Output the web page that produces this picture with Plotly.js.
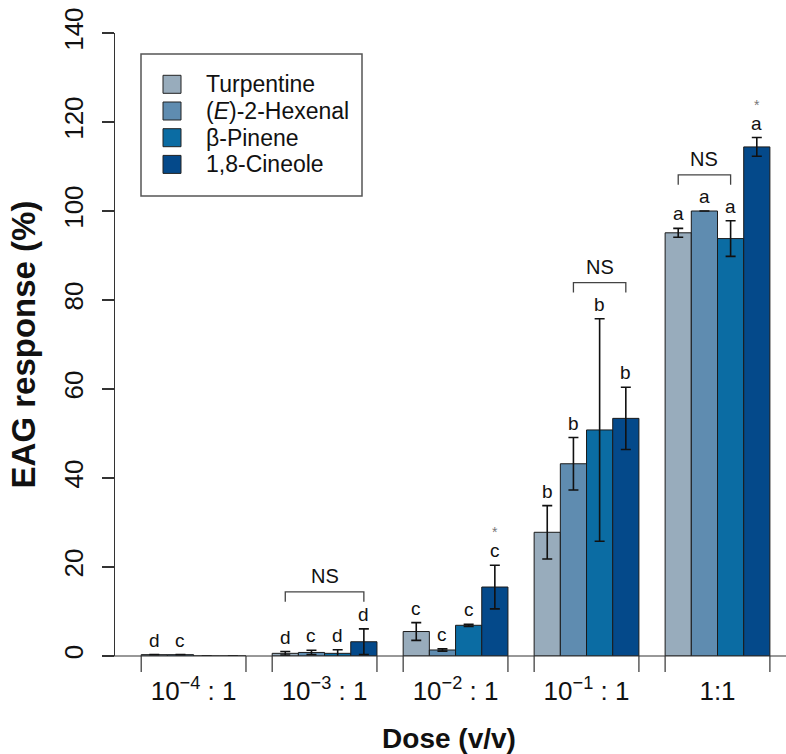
<!DOCTYPE html>
<html><head><meta charset="utf-8">
<script src="https://cdn.plot.ly/plotly-3.0.1.min.js"></script>
<style>html,body{margin:0;padding:0;background:#fff}</style>
</head><body><div id="chart" style="width:786px;height:754px"></div>
<script>
// ---- data ----
const doses = ["1e-4", "1e-3", "1e-2", "1e-1", "1"];
const doseLabels = ["10<sup>−4</sup> : 1", "10<sup>−3</sup> : 1", "10<sup>−2</sup> : 1", "10<sup>−1</sup> : 1", "1:1"];
const seriesNames = ["Turpentine", "(<i>E</i>)-2-Hexenal", "β-Pinene", "1,8-Cineole"];

const turpentine    = [0.3, 0.6, 5.5, 27.8, 95.1];
const turpentineErr = [0,   0.4, 2.0, 6.0,  1.0];
const hexenal       = [0.3, 0.8, 1.35, 43.2, 100.0];
const hexenalErr    = [0,   0.5, 0.25, 5.9,  0];
const pinene        = [0,   0.6, 6.9,  50.8, 93.8];
const pineneErr     = [0,   0.8, 0.25, 25.0, 4.0];
const cineole       = [0,   3.2, 15.5, 53.4, 114.4];
const cineoleErr    = [0,   2.9, 4.9,  7.0,  2.1];

const turpentineLetters = ["d", "d", "c", "b", "a"];
const hexenalLetters    = ["c", "c", "c", "b", "a"];
const pineneLetters     = ["",  "d", "c", "b", "a"];
const cineoleLetters    = ["",  "d", "c", "b", "a"];
const cineoleStars      = ["",  "",  "*", "",  "*"];

// NS brackets: group index, first bar, last bar, bracket level
const nsGroup = [1, 3, 4];
const nsFrom  = [0, 1, 0];
const nsTo    = [3, 3, 2];
const nsLevel = [14.4, 83.9, 108.1];

const colors = ["#98acbc", "#5f8cb0", "#0b6ca3", "#04498a"];

// ---- build ----
const values = [turpentine, hexenal, pinene, cineole];
const errs = [turpentineErr, hexenalErr, pineneErr, cineoleErr];
const letters = [turpentineLetters, hexenalLetters, pineneLetters, cineoleLetters];

const traces = values.map((v, j) => ({
  type: "bar", x: doses, y: v, name: seriesNames[j], showlegend: false,
  marker: {color: colors[j], line: {color: "#1a1a1a", width: 1}},
  error_y: {type: "data", array: errs[j], visible: true, color: "#111", thickness: 1.6, width: 5}
}));

const W = 786, H = 754, mL = 115, mR = 3, mT = 33, mB = 98;
const pw = W - mL - mR, ph = H - mT - mB;
const px = x => (x - mL) / pw;
const py = y => (H - mB - y) / ph;
const barX = (i, j) => i + (j - 1.5) * 0.2;

const shapes = [];
const annotations = [];
const axCol = "#333";

// baseline
shapes.push({type: "line", xref: "paper", yref: "paper", x0: px(103), x1: px(790), y0: 0, y1: 0,
  line: {color: axCol, width: 1.2}});
// group edge ticks
doses.forEach((d, i) => {
  [i - 0.4, i + 0.4].forEach(xe => shapes.push({type: "line", xref: "x", yref: "paper",
    x0: xe, x1: xe, y0: 0, y1: -16 / ph, line: {color: axCol, width: 1.2}}));
});
// letters and stars
values.forEach((v, j) => {
  v.forEach((val, i) => {
    if (letters[j][i]) annotations.push({x: barX(i, j), y: val + errs[j][i], xref: "x", yref: "y",
      text: letters[j][i], showarrow: false, yanchor: "bottom", yshift: 2,
      font: {family: "Liberation Sans, Arial", size: 19, color: "#111"}});
  });
});
cineoleStars.forEach((s, i) => {
  if (s) annotations.push({x: barX(i, 3), y: cineole[i] + cineoleErr[i], xref: "x", yref: "y",
    text: s, showarrow: false, yanchor: "bottom", yshift: 23,
    font: {family: "Liberation Sans, Arial", size: 14, color: "#777"}});
});
// NS brackets
nsGroup.forEach((g, k) => {
  const x0 = barX(g, nsFrom[k]), x1 = barX(g, nsTo[k]), yl = nsLevel[k];
  shapes.push({type: "path", xref: "x", yref: "y",
    path: `M ${x0},${yl - 2.2} L ${x0},${yl} L ${x1},${yl} L ${x1},${yl - 2.2}`,
    line: {color: "#444", width: 1.3}});
  annotations.push({x: (x0 + x1) / 2, y: yl, xref: "x", yref: "y", text: "NS", showarrow: false,
    yanchor: "bottom", yshift: 3, font: {family: "Liberation Sans, Arial", size: 20, color: "#111"}});
});
// legend (drawn manually)
shapes.push({type: "rect", xref: "paper", yref: "paper", x0: px(141), x1: px(362), y0: py(196), y1: py(54),
  line: {color: "#555", width: 1.5}, fillcolor: "rgba(0,0,0,0)"});
seriesNames.forEach((nm, j) => {
  const ry = 84.3 + j * 26.7;
  shapes.push({type: "rect", xref: "paper", yref: "paper", x0: px(163), x1: px(181), y0: py(ry + 9), y1: py(ry - 9),
    fillcolor: colors[j], line: {color: "#222", width: 1}});
  annotations.push({xref: "paper", yref: "paper", x: px(204), y: py(ry), text: nm, showarrow: false,
    xanchor: "left", yanchor: "middle", font: {family: "Liberation Sans, Arial", size: 23, color: "#111"}});
});

const layout = {
  width: W, height: H, margin: {l: mL, r: mR, t: mT, b: mB},
  paper_bgcolor: "#fff", plot_bgcolor: "#fff",
  barmode: "group", bargap: 0.2, bargroupgap: 0,
  showlegend: false,
  xaxis: {type: "category", categoryorder: "array", categoryarray: doses, range: [-0.6, 4.5],
    tickmode: "array", tickvals: doses, ticktext: doseLabels, ticks: "", showline: false,
    zeroline: false, showgrid: false, ticklabelstandoff: 17,
    tickfont: {family: "Liberation Sans Narrow, Arial Narrow, Liberation Sans, Arial", size: 26, color: "#111"},
    title: {text: "<b>Dose (v/v)</b>", standoff: 25,
      font: {family: "Liberation Sans, Arial", size: 28, color: "#111"}}},
  yaxis: {range: [0, 140], tickmode: "array", tickvals: [0, 20, 40, 60, 80, 100, 120, 140],
    ticks: "outside", ticklen: 12, tickwidth: 1.2, tickcolor: axCol, showline: true, linecolor: axCol,
    linewidth: 1.2, showgrid: false, zeroline: false, tickangle: -90, ticklabelstandoff: 8,
    tickfont: {family: "Liberation Sans, Arial", size: 26, color: "#111"},
    title: {text: "<b>EAG response (%)</b>", standoff: 13,
      font: {family: "Liberation Sans, Arial", size: 33, color: "#111"}}},
  shapes: shapes, annotations: annotations
};
Plotly.newPlot("chart", traces, layout, {displayModeBar: false, staticPlot: true});
</script></body></html>
